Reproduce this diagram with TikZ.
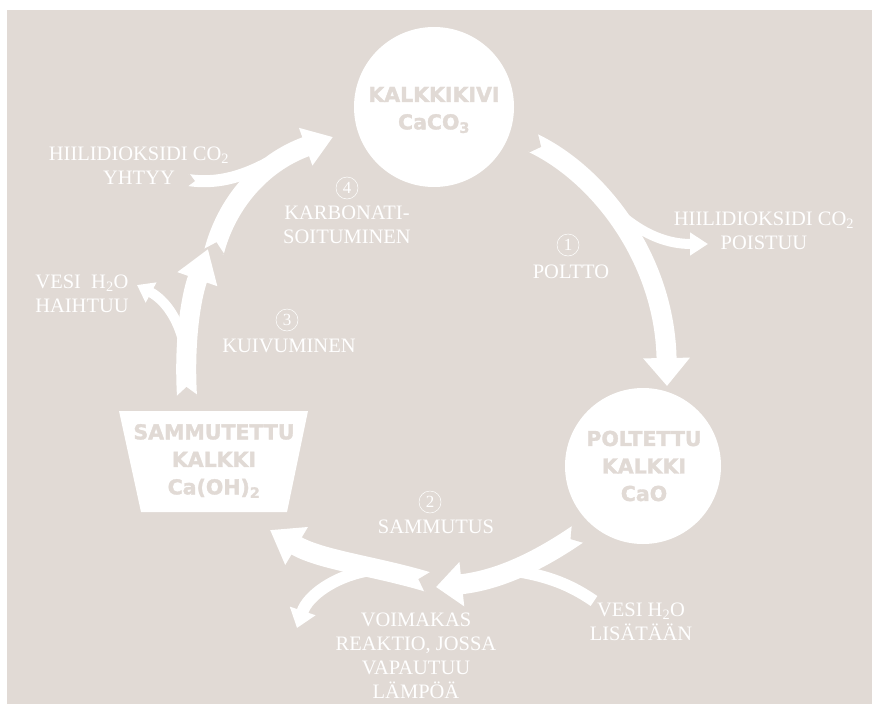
\documentclass[tikz,border=0pt]{standalone}
\usepackage{fontspec}
\setmainfont{Liberation Serif}
\newfontfamily\blkfont{DejaVu Sans}[BoldFeatures={FakeBold=1.6}]
\usetikzlibrary{arrows.meta,calc}
\definecolor{bg}{RGB}{225,218,213}
\newcommand\notchat[4]{% start, toward, half width, depth
  \fill[bg] ($(#1)!#3!90:(#2)$) -- ($(#1)!#4!(#2)$) -- ($(#1)!#3!-90:(#2)$) -- ($(#1)!2pt!180:(#2)$) -- cycle;}
\tikzset{
  bigcirc/.style={circle, fill=white, inner sep=0},
  boldtxt/.style={text=bg, font=\blkfont\bfseries\fontsize{20.5}{27.5}\selectfont, align=center, inner sep=0},
  lbl/.style={text=white, font=\fontsize{20.5}{24}\selectfont, align=center, inner sep=0},
  circnum/.style={circle, draw=white, line width=0.5pt, text=white, inner sep=0, minimum size=22pt, font=\fontsize{17}{17}\selectfont},
  flow/.style={draw=white, line width=#1},
}
\begin{document}
\begin{tikzpicture}[x=1pt,y=-1pt]
\useasboundingbox (0,0) rectangle (872,704);
\fill[white] (0,0) rectangle (872,704);
\fill[bg] (7,10) rectangle (872,704);

% main nodes
\node[bigcirc, minimum size=160pt] (kalk) at (434,107) {};
\node[bigcirc, minimum size=156pt] (polt) at (643,466) {};
\fill[white] (119,411) -- (308,411) -- (287,512) -- (141,512) -- cycle;
\node[boldtxt] (kalkt) at (434,110) {KALKKIKIVI\\CaCO\textsubscript{3}};
\node[boldtxt] (poltt) at (644,466) {POLTETTU\\KALKKI\\CaO};
\node[boldtxt] (sammt) at (214,461) {SAMMUTETTU\\KALKKI\\Ca(OH)\textsubscript{2}};

% arrow coordinates
\coordinate (a1s) at (533,143); \coordinate (a1c) at (600,175); \coordinate (a1d) at (665,260); \coordinate (a1e) at (667,386);
\coordinate (b1s) at (591,186); \coordinate (b1c) at (613,209); \coordinate (b1d) at (645,244); \coordinate (b1e) at (708,244);
\coordinate (a2s) at (578,534); \coordinate (a2c) at (540,560); \coordinate (a2d) at (500,580); \coordinate (a2e) at (436,587);
\coordinate (w2s) at (594,601); \coordinate (w2c) at (575,588); \coordinate (w2d) at (555,578); \coordinate (w2e) at (522,572);
\coordinate (a5s) at (428,582); \coordinate (a5c) at (375,566); \coordinate (a5d) at (320,560); \coordinate (a5e) at (270,530);
\coordinate (h2s) at (365,571); \coordinate (h2c) at (335,577); \coordinate (h2d) at (308,595); \coordinate (h2e) at (297,628);
\coordinate (a4s) at (214,252); \coordinate (a4c) at (226,205); \coordinate (a4d) at (260,163); \coordinate (a4e) at (333,137);
\coordinate (c4s) at (188,180); \coordinate (c4c) at (215,184); \coordinate (c4d) at (240,178); \coordinate (c4e) at (268,163);
\coordinate (a3s) at (187,396); \coordinate (a3c) at (184,345); \coordinate (a3d) at (190,300); \coordinate (a3e) at (208,249);
\coordinate (v3s) at (185,350); \coordinate (v3c) at (180,320); \coordinate (v3d) at (165,300); \coordinate (v3e) at (137,285);

% 1 poltto
\draw[flow=20pt, -{Triangle[length=28pt,width=45pt]}] (a1s) .. controls (a1c) and (a1d) .. (a1e);
\notchat{a1s}{a1c}{11pt}{9pt}
\draw[flow=10pt, -{Triangle[length=18pt,width=22pt]}] (b1s) .. controls (b1c) and (b1d) .. (b1e);

% 2 sammutus
\draw[flow=20pt, -{Triangle[length=31pt,width=42pt]}] (a5s) .. controls (a5c) and (a5d) .. (a5e);
\notchat{a5s}{a5c}{11pt}{10pt}
\draw[flow=12pt, -{Triangle[length=18pt,width=26pt]}] (h2s) .. controls (h2c) and (h2d) .. (h2e);
\draw[flow=12pt] (w2s) .. controls (w2c) and (w2d) .. (w2e);
\draw[flow=20pt, -{Triangle[length=26pt,width=43pt]}] (a2s) .. controls (a2c) and (a2d) .. (a2e);
\notchat{a2s}{a2c}{11pt}{9pt}

% 4 karbonatisoituminen
\draw[flow=20pt, -{Triangle[length=29pt,width=38pt]}] (a4s) .. controls (a4c) and (a4d) .. (a4e);
\notchat{a4s}{a4c}{11pt}{10pt}
\draw[flow=12pt] (c4s) .. controls (c4c) and (c4d) .. (c4e);
\notchat{c4s}{c4c}{7pt}{7pt}

% 3 kuivuminen
\draw[flow=20pt, -{Triangle[length=32pt,width=40pt]}] (a3s) .. controls (a3c) and (a3d) .. (a3e);
\notchat{a3s}{a3c}{11pt}{9pt}
\draw[flow=10pt, -{Triangle[length=16pt,width=22pt]}] (v3s) .. controls (v3c) and (v3d) .. (v3e);

% labels
\node[lbl] (co2in) at (139,166) {HIILIDIOKSIDI CO\textsubscript{2}\\YHTYY};
\node[circnum] (n4) at (347,188) {4};
\node[lbl] (karb) at (347,225) {KARBONATI-\\SOITUMINEN};
\node[circnum] (n1) at (568,245) {1};
\node[lbl] (poltto) at (571,272) {POLTTO};
\node[lbl] (co2out) at (764,231) {HIILIDIOKSIDI CO\textsubscript{2}\\POISTUU};
\node[lbl] (haiht) at (82,294) {VESI\ \ H\textsubscript{2}O\\HAIHTUU};
\node[circnum] (n3) at (287,320) {3};
\node[lbl] (kuiv) at (289,346) {KUIVUMINEN};
\node[circnum] (n2) at (430,502) {2};
\node[lbl] (samm) at (436,527) {SAMMUTUS};
\node[lbl] (voim) at (416,656) {VOIMAKAS\\REAKTIO, JOSSA\\VAPAUTUU\\LÄMPÖÄ};
\node[lbl] (lisat) at (641,622) {VESI H\textsubscript{2}O\\LISÄTÄÄN};
\end{tikzpicture}
\end{document}
